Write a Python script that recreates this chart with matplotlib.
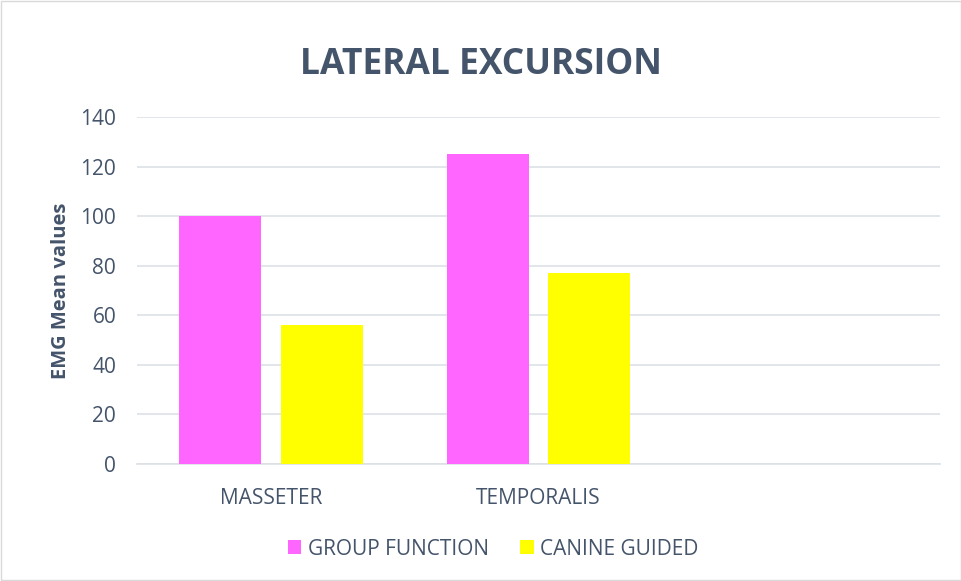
import matplotlib.pyplot as plt
import numpy as np

categories = ["MASSETER", "TEMPORALIS", ""]
group_function = [100, 125, np.nan]
canine_guided = [56, 77, np.nan]

textColor = "#44546A"
pink = "#FF66FF"
yellow = "#FFFF00"

plt.rcParams['font.family'] = ['Open Sans', 'DejaVu Sans']

fig = plt.figure(figsize=(9.62, 5.81), dpi=100)
ax = fig.add_axes([0.1424, 0.2014, 0.977 - 0.1424, 0.7986 - 0.2014])

x = np.arange(len(categories))
w = 0.306
ax.bar(x - 0.19, group_function, width=w, color=pink, label="GROUP FUNCTION", zorder=3)
ax.bar(x + 0.19, canine_guided, width=w, color=yellow, label="CANINE GUIDED", zorder=3)

ax.set_xlim(-0.5, 2.5)
ax.set_ylim(0, 140)
ax.set_yticks(range(0, 141, 20))
ax.set_xticks(x)
ax.set_xticklabels(categories)
ax.yaxis.grid(True, color="#DDE1E6", linewidth=1.2, zorder=0)
for s in ["top", "right", "left"]:
    ax.spines[s].set_visible(False)
ax.spines["bottom"].set_color("#DDE1E6")
ax.spines["bottom"].set_linewidth(1.2)
ax.tick_params(axis="both", length=0, colors=textColor, labelsize=15)
ax.tick_params(axis="x", pad=17)
ax.tick_params(axis="y", pad=15)

ax.set_ylabel("EMG Mean values", fontsize=14.5, fontweight="bold", color=textColor, labelpad=7)
fig.text(0.5, 0.888, "LATERAL EXCURSION", ha="center", va="center",
         fontsize=25.5, fontweight="bold", color=textColor)

leg = fig.legend(loc="center", bbox_to_anchor=(0.5125, 0.055), ncol=2, frameon=False,
                 fontsize=15, handlelength=0.65, handleheight=0.65, handletextpad=0.3,
                 columnspacing=1.5)
for t in leg.get_texts():
    t.set_color(textColor)

# chart border
fig.patches.append(plt.Rectangle((0.001, 0.001), 0.998, 0.998, transform=fig.transFigure,
                                 fill=False, edgecolor="#D9D9D9", linewidth=1))

fig.savefig("out.png", dpi=100)
